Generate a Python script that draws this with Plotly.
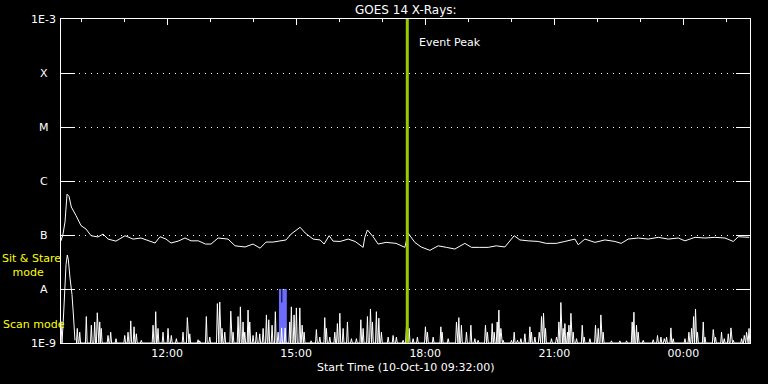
import pandas as pd
import numpy as np
import plotly.graph_objects as go

# ---------------- data ----------------
start_time = "2010-10-10 09:32:00"
end_time = "2010-10-11 01:33:00"
title_text = "GOES 14 X-Rays:"
xlabel_text = "Start Time (10-Oct-10 09:32:00)"

# GOES flux (W/m^2) at minutes after start
flux_minutes = [0, 2.8, 5.6, 8.4, 11.2, 14.4, 20.9, 27.9, 34.9, 41.9, 51.6, 58.6, 65.6, 76.7,
                89.3, 100.5, 111.6, 121.4, 131.2, 138.1, 146.5, 153.5, 163.3, 173.0, 181.4,
                191.6, 201.4, 209.3, 219.1, 233.0, 242.8, 256.7, 267.9, 277.7, 286.0, 295.8,
                305.6, 313.9, 320.9, 333.5, 340.5, 351.6, 361.4, 367.0, 374.0, 379.5, 389.3,
                400.5, 410.2, 421.4, 423.7, 427.4, 435.3, 442.3, 453.5, 467.4, 479.6, 484.2,
                493.5, 502.3, 514.5, 526.0, 537.6, 549.3, 563.3, 572.5, 584.2, 595.8, 607.0,
                619.1, 632.1, 640.0, 651.6, 665.6, 676.7, 690.7, 702.8, 716.8, 721.4, 730.7,
                744.7, 758.6, 772.6, 781.4, 791.1, 805.1, 819.0, 833.0, 847.0, 860.9, 870.3,
                884.2, 898.2, 912.1, 926.1, 937.7, 944.7, 954.0, 960.0]
flux_values = [7.8e-8, 1.04e-7, 1.75e-7, 5.7e-7, 5.2e-7, 3.3e-7, 2.3e-7, 1.49e-7, 1.29e-7, 9.7e-8,
               9.2e-8, 1.04e-7, 8.4e-8, 7.7e-8, 9.7e-8, 8.4e-8, 8.8e-8, 7.8e-8, 7.1e-8, 9.3e-8,
               8.4e-8, 7.1e-8, 7.7e-8, 8.8e-8, 7.8e-8, 7.8e-8, 6.8e-8, 6.8e-8, 8.8e-8, 8.4e-8,
               6.3e-8, 6.0e-8, 6.8e-8, 5.7e-8, 7.4e-8, 7.4e-8, 7.7e-8, 8.1e-8, 1.04e-7, 1.39e-7,
               1.09e-7, 8.4e-8, 8.1e-8, 6.8e-8, 9.7e-8, 7.7e-8, 7.6e-8, 8.4e-8, 7.6e-8, 5.9e-8,
               9.05e-8, 1.24e-7, 9.3e-8, 6.8e-8, 7.3e-8, 7.0e-8, 5.9e-8, 1.08e-7, 7.3e-8, 6.0e-8,
               5.2e-8, 6.3e-8, 5.9e-8, 5.5e-8, 7.0e-8, 5.9e-8, 5.9e-8, 5.9e-8, 6.3e-8, 6.0e-8,
               9.7e-8, 8.1e-8, 7.8e-8, 7.6e-8, 7.0e-8, 7.0e-8, 7.6e-8, 8.4e-8, 6.6e-8, 8.4e-8,
               7.3e-8, 8.1e-8, 7.6e-8, 7.0e-8, 8.4e-8, 8.8e-8, 8.4e-8, 9.05e-8, 8.4e-8, 8.8e-8,
               7.8e-8, 9.05e-8, 8.8e-8, 9.05e-8, 8.8e-8, 7.6e-8, 9.3e-8, 9.05e-8, 9.05e-8]

# Sit & Stare mode burst (level units, 1 = A level)
sit_minutes = [0.0, 1.4, 3.5, 5.2, 7.0, 8.8, 10.2, 12.6, 15.3, 17.4, 19.5]
sit_values = [0.4, 0.0, 0.5, 1.0, 1.45, 1.63, 1.55, 1.2, 0.9, 0.5, 0.05]

# Scan mode spikes (level units)
scan_minutes = [22.7, 26.1, 35.3, 42.3, 47.0, 50.6, 54.0, 56.2, 65.6, 69.3, 76.7, 88.9, 93.5, 97.3,
                101.9, 105.1, 112.0, 128.4, 132.1, 135.3, 142.3, 149.3, 153.9, 160.9, 170.2, 176.2,
                179.6, 191.2, 193.5, 202.7, 207.5, 218.1, 221.4, 224.6, 228.4, 236.8, 240.0, 247.0,
                250.2, 253.9, 256.3, 260.9, 263.3, 267.9, 272.5, 277.2, 281.9, 286.5, 289.8, 294.4,
                299.0, 302.8, 307.7, 312.6, 319.1, 321.3, 325.1, 328.3, 333.1, 336.3, 339.1, 348.8,
                356.2, 361.0, 367.9, 370.2, 374.9, 381.9, 385.5, 388.9, 393.5, 399.5, 405.1, 412.0,
                418.2, 421.4, 427.4, 431.6, 434.4, 439.9, 443.3, 446.9, 456.3, 463.2, 467.8, 477.2,
                481.8, 485.6, 491.1, 497.1, 508.3, 511.1, 519.1, 529.8, 531.6, 540.0, 551.6, 554.9,
                558.5, 565.5, 571.7, 577.2, 581.8, 592.0, 594.8, 601.4, 604.2, 608.4, 610.7, 613.5,
                616.7, 628.3, 632.1, 636.7, 641.4, 647.0, 654.0, 656.2, 661.0, 667.0, 670.2, 673.0,
                675.8, 684.1, 691.1, 694.4, 697.2, 700.4, 702.8, 706.4, 708.4, 711.2, 714.4, 719.0,
                727.0, 729.7, 737.7, 745.5, 749.3, 753.0, 756.2, 767.8, 779.5, 788.8, 796.7, 799.1,
                802.7, 805.1, 812.1, 826.0, 832.0, 836.8, 841.4, 844.6, 850.7, 853.9, 870.3, 875.8,
                879.5, 882.3, 885.0, 887.8, 895.8, 898.2, 909.7, 912.9, 921.3, 925.1, 930.7, 934.4,
                937.7, 949.3, 953.0, 956.2, 959.6]
scan_values = [0.27, 0.2, 0.49, 0.33, 0.39, 0.56, 0.39, 0.27, 0.14, 0.2, 0.08, 0.14, 0.2, 0.41,
               0.3, 0.17, 0.05, 0.33, 0.58, 0.27, 0.2, 0.27, 0.14, 0.08, 0.2, 0.47,
               0.17, 0.06, 0.04, 0.49, 0.11, 0.73, 0.76, 0.27, 0.2, 0.59, 0.2, 0.49,
               0.67, 0.39, 0.2, 0.61, 0.39, 0.14, 0.2, 0.17, 0.27, 0.52, 0.43, 0.33,
               0.58, 0.2, 0.28, 0.28, 0.39, 0.67, 0.52, 0.65, 0.65, 0.33, 0.2, 0.04,
               0.25, 0.11, 0.47, 0.27, 0.11, 0.2, 0.36, 0.55, 0.27, 0.39, 0.08, 0.08,
               0.43, 0.27, 0.49, 0.63, 0.39, 0.58, 0.46, 0.2, 0.11, 0.14, 0.11, 0.05,
               0.3, 0.27, 0.08, 0.11, 0.3, 0.2, 0.11, 0.3, 0.2, 0.08, 0.39, 0.47,
               0.33, 0.2, 0.33, 0.08, 0.05, 0.33, 0.2, 0.36, 0.2, 0.39, 0.61, 0.27,
               0.05, 0.05, 0.2, 0.05, 0.08, 0.17, 0.3, 0.2, 0.11, 0.2, 0.49, 0.55,
               0.27, 0.08, 0.11, 0.39, 0.75, 0.27, 0.36, 0.2, 0.33, 0.55, 0.2, 0.08,
               0.33, 0.11, 0.08, 0.33, 0.27, 0.52, 0.2, 0.04, 0.04, 0.04, 0.39, 0.57,
               0.33, 0.2, 0.05, 0.06, 0.14, 0.11, 0.08, 0.11, 0.28, 0.08, 0.08, 0.2,
               0.27, 0.49, 0.63, 0.2, 0.39, 0.11, 0.25, 0.11, 0.2, 0.08, 0.17, 0.28,
               0.05, 0.08, 0.14, 0.2, 0.27]

# Sit & Stare pointing window and event peak
stare_start = "2010-10-10 14:36"
stare_end = "2010-10-10 14:47"
stare_mark = "2010-10-10 14:40"
event_peak = "2010-10-10 17:35"

level_values = [1e-9, 1e-8, 1e-7, 1e-6, 1e-5, 1e-4, 1e-3]
level_labels = ["1E-9", "A", "B", "C", "M", "X", "1E-3"]

hour_ticks = ["2010-10-10 12:00", "2010-10-10 15:00", "2010-10-10 18:00",
              "2010-10-10 21:00", "2010-10-11 00:00"]
hour_labels = ["12:00", "15:00", "18:00", "21:00", "00:00"]

# ---------------- build ----------------
t0 = pd.Timestamp(start_time)
to_time = lambda mins: [t0 + pd.Timedelta(minutes=float(m)) for m in mins]

SPIKE_HALF = 1.2  # minutes, drawing width of each scan spike
sx, sy = [], []
for m, v in zip(scan_minutes, scan_values):
    sx += [m - SPIKE_HALF, m, m + SPIKE_HALF]
    sy += [0, v, 0]

WHITE = "#ffffff"
FONT = "DejaVu Sans"

fig = go.Figure()
fig.add_trace(go.Scatter(x=to_time(flux_minutes), y=flux_values, mode="lines",
                         line=dict(color=WHITE, width=1), yaxis="y", xaxis="x",
                         hoverinfo="skip", showlegend=False))
fig.add_trace(go.Scatter(x=to_time(sit_minutes), y=sit_values, mode="lines",
                         line=dict(color=WHITE, width=1), yaxis="y2", xaxis="x",
                         showlegend=False))
fig.add_trace(go.Scatter(x=to_time(sx), y=sy, mode="lines",
                         line=dict(color=WHITE, width=1), yaxis="y2", xaxis="x",
                         showlegend=False))
# invisible trace to carry the top axis
fig.add_trace(go.Scatter(x=[start_time, end_time], y=[1e-9, 1e-9], mode="lines",
                         line=dict(width=0), xaxis="x2", yaxis="y",
                         showlegend=False, hoverinfo="skip"))

# Sit & stare window (blue) under the spikes
fig.add_shape(type="rect", xref="x", yref="y2", x0=stare_start, x1=stare_end, y0=0, y1=1,
              fillcolor="#6b6bff", line=dict(width=0), layer="below")
fig.add_shape(type="line", xref="x", yref="y2", x0=stare_mark, x1=stare_mark, y0=0.75, y1=1,
              line=dict(color="#000000", width=1), layer="below")
# event peak
fig.add_shape(type="line", xref="x", yref="paper", x0=event_peak, x1=event_peak, y0=0, y1=1,
              line=dict(color="#99cc00", width=3))

annotations = [
    dict(text=title_text, x=0.5, y=1.028, xref="paper", yref="paper",
         xanchor="center", yanchor="middle", showarrow=False,
         font=dict(family=FONT, size=12, color=WHITE)),
    dict(text=xlabel_text, x=0.5, y=-0.077, xref="paper", yref="paper",
         xanchor="center", yanchor="middle", showarrow=False,
         font=dict(family=FONT, size=11, color=WHITE)),
    dict(text="Event Peak", x=event_peak, y=0.926, xref="x", yref="paper", xshift=10,
         xanchor="left", yanchor="middle", showarrow=False,
         font=dict(family=FONT, size=11, color=WHITE)),
    dict(text="Sit & Stare<br>&nbsp;&nbsp;&nbsp;mode", x=-0.087, y=0.2395,
         xref="paper", yref="paper", align="left",
         xanchor="left", yanchor="middle", showarrow=False, borderpad=0,
         font=dict(family=FONT, size=11, color="#ffff00")),
    dict(text="Scan mode", x=-0.087, y=0.058, xref="paper", yref="paper",
         xanchor="left", yanchor="middle", showarrow=False,
         font=dict(family=FONT, size=11, color="#ffff00")),
]
for v, lab in zip(level_values, level_labels):
    annotations.append(dict(text=lab, x=-0.0247, y=np.log10(v), xref="paper", yref="y",
                            xanchor="center", yanchor="middle", showarrow=False,
                            font=dict(family=FONT, size=11, color=WHITE)))

fig.update_layout(
    width=768, height=384,
    margin=dict(l=61, r=18, t=19, b=41),
    paper_bgcolor="#000000", plot_bgcolor="#000000",
    showlegend=False,
    annotations=annotations,
    xaxis=dict(type="date", range=[start_time, end_time], showgrid=False, zeroline=False,
               showline=True, linecolor=WHITE, linewidth=1, ticks="",
               tickvals=hour_ticks, ticktext=hour_labels,
               tickfont=dict(family=FONT, size=11, color=WHITE)),
    xaxis2=dict(type="date", range=[start_time, end_time], overlaying="x", side="top",
                showgrid=False, zeroline=False, showline=True, linecolor=WHITE, linewidth=1,
                ticks="inside", ticklen=6, tickcolor=WHITE, tickwidth=1,
                tick0="2010-10-10 00:00", dtick=3 * 3600 * 1000, showticklabels=False,
                minor=dict(ticks="inside", ticklen=3, tickcolor=WHITE, dtick=3600 * 1000,
                           showgrid=False)),
    yaxis=dict(type="log", range=[-9, -3], showline=True, linecolor=WHITE, linewidth=1,
               mirror="ticks", ticks="inside", ticklen=14, tickcolor=WHITE, tickwidth=1,
               tickvals=level_values, showticklabels=False, zeroline=False,
               showgrid=True, gridcolor=WHITE, gridwidth=1, griddash="1px,5px"),
    yaxis2=dict(range=[0, 6], overlaying="y", showgrid=False, zeroline=False,
                showticklabels=False, showline=False, ticks=""),
)

fig.write_html("out.html", config={"displayModeBar": False},
               post_script="document.body.style.margin='0px';document.body.style.background='#000';")
